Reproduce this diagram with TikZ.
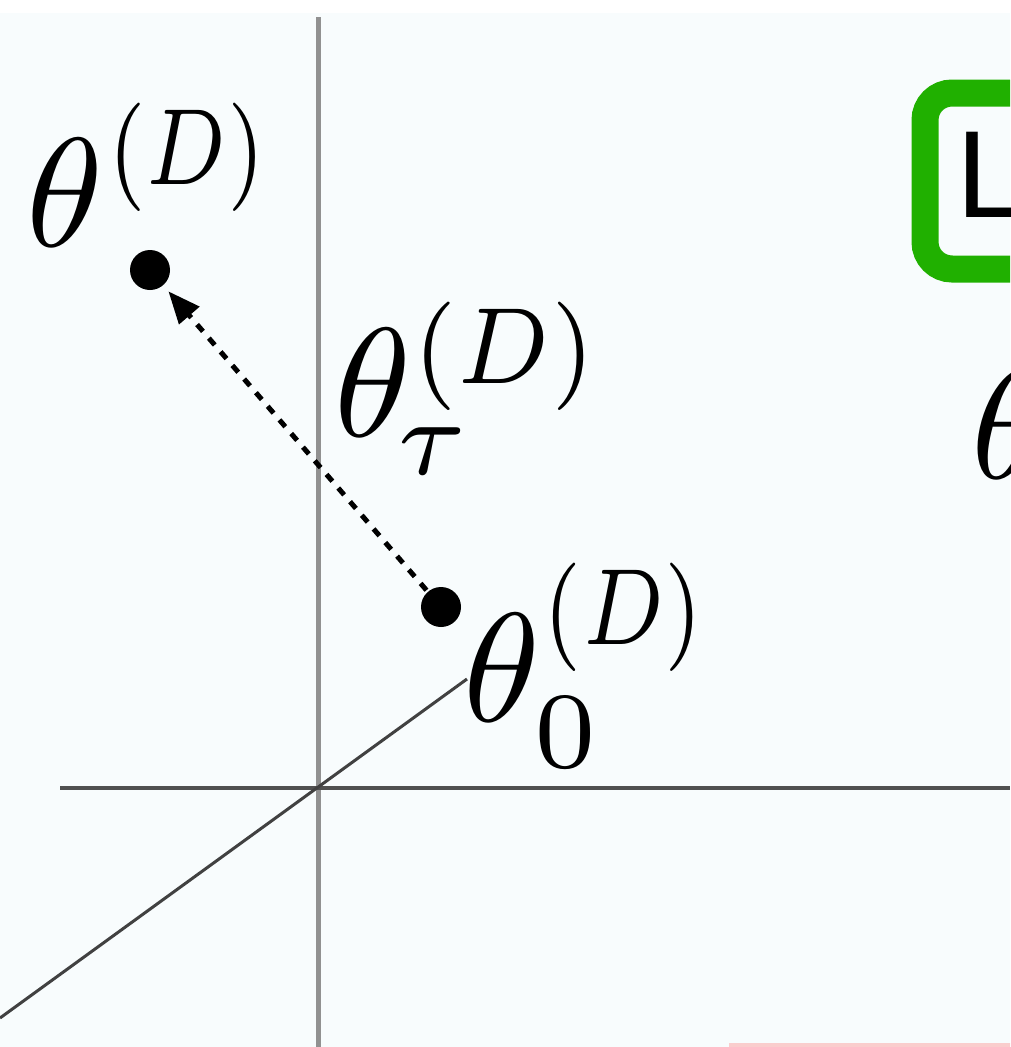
\documentclass[tikz,border=0pt]{standalone}
\usepackage{graphicx}
\usepackage{fontspec}
\newfontfamily\lsans{Liberation Sans}
\usetikzlibrary{arrows.meta}
\definecolor{bgc}{RGB}{248,252,253}
\definecolor{boxgreen}{RGB}{32,176,0}
\definecolor{vaxis}{RGB}{145,145,145}
\definecolor{haxis}{RGB}{80,80,80}
\definecolor{diag}{RGB}{65,65,65}
\definecolor{pinkline}{RGB}{250,205,205}
\tikzset{
  dotnode/.style={circle,fill=black,inner sep=0pt,minimum size=40pt},
  mathlabel/.style={anchor=base west,inner sep=0pt,scale=15.5},
  sanslabel/.style={anchor=base west,inner sep=0pt,font=\lsans\fontsize{124}{150}\selectfont},
  dasharrow/.style={line width=5pt,dash pattern=on 9pt off 9pt,-{Triangle[length=32pt,width=26pt]},shorten >=8pt,shorten <=2pt}
}
\begin{document}
\begin{tikzpicture}[x=1pt,y=-1pt]
\useasboundingbox (0,0) rectangle (1010,1047);
\clip (0,0) rectangle (1010,1047);
\fill[white] (0,0) rectangle (1010,1047);
\fill[bgc] (0,13) rectangle (1010,1047);
% axes
\coordinate (o) at (318,788);
\coordinate (vtop) at (318,17);
\coordinate (vbot) at (318,1047);
\coordinate (hleft) at (60,788);
\coordinate (hright) at (1010,788);
\coordinate (dlow) at (0,1018);
\coordinate (dhigh) at (467,679);
\draw[vaxis,line width=5pt] (vtop) -- (vbot);
\draw[haxis,line width=4pt] (hleft) -- (hright);
\draw[diag,line width=3pt] (dlow) -- (dhigh);
% pink line at bottom
\coordinate (pl) at (729,1045);
\coordinate (pr) at (1012,1045);
\draw[pinkline,line width=4pt] (pl) -- (pr);
% green box
\draw[boxgreen,line width=27pt,rounded corners=27pt] (925,93) rectangle (1100,269);
\node[sanslabel] (L) at (956,217) {L};
% dots and arrow
\node[dotnode] (tD) at (150,270) {};
\node[dotnode] (t0) at (441,607) {};
\draw[dasharrow] (t0) -- (tD);
% labels
\node[mathlabel] (lD) at (23.5,246)
  {$\theta\kern0.28pt\raisebox{4pt}{\scalebox{0.78}[1]{$\scriptstyle(D)$}}$};
\node[mathlabel] (ltau) at (331.5,436)
  {$\theta\rlap{\kern-0.9pt\raisebox{-2.5pt}{$\scriptstyle\tau$}}\kern0.1pt\raisebox{3.4pt}{\scalebox{0.9}[1]{$\scriptstyle(D)$}}$};
\node[mathlabel] (l0) at (460.5,721)
  {$\theta\rlap{\kern-0.4pt\raisebox{-3pt}{$\scriptstyle 0$}}\kern0.2pt\raisebox{4.95pt}{\scalebox{0.79}[1]{$\scriptstyle(D)$}}$};
\node[mathlabel] (lr) at (968.5,478) {$\theta$};
\end{tikzpicture}
\end{document}
